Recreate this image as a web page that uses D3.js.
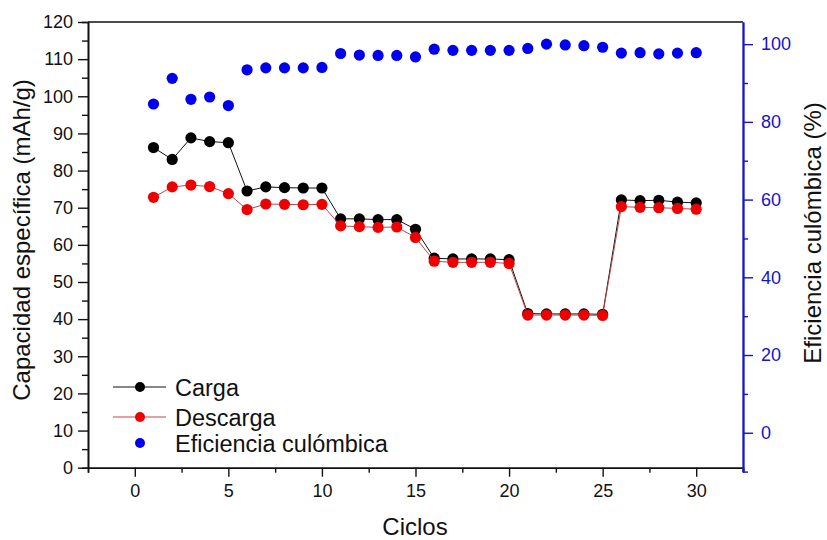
<!DOCTYPE html>
<html>
<head>
<meta charset="utf-8">
<script src="https://cdn.jsdelivr.net/npm/d3@7"></script>
<style>
  body { margin: 0; background: #fff; }
  svg text { font-family: "Liberation Sans", Arial, sans-serif; }
</style>
</head>
<body>
<svg id="svgchart"></svg>
<script>
'use strict'

// values
const ciclos = [1, 2, 3, 4, 5, 6, 7, 8, 9, 10, 11, 12, 13, 14, 15, 16, 17, 18, 19, 20, 21, 22, 23, 24, 25, 26, 27, 28, 29, 30]
const carga = [86.2, 83.0, 88.8, 87.8, 87.5, 74.5, 75.6, 75.4, 75.3, 75.3, 67.0, 67.0, 66.8, 66.8, 64.2,
  56.4, 56.2, 56.2, 56.2, 56.0, 41.5, 41.4, 41.4, 41.4, 41.3, 72.1, 71.9, 72.0, 71.5, 71.3]
const descarga = [72.8, 75.6, 76.1, 75.7, 73.8, 69.5, 71.0, 70.9, 70.8, 70.9, 65.1, 64.9, 64.7, 64.8, 62.0,
  55.6, 55.3, 55.3, 55.3, 55.0, 41.1, 41.1, 41.1, 41.1, 41.0, 70.3, 70.1, 70.0, 69.8, 69.6]
const eficiencia = [84.6, 91.2, 85.8, 86.4, 84.2, 93.4, 93.9, 93.9, 93.9, 94.0, 97.6, 97.2, 97.1, 97.1, 96.7,
  98.7, 98.4, 98.4, 98.4, 98.4, 98.9, 100.0, 99.8, 99.6, 99.2, 97.7, 97.8, 97.5, 97.7, 97.8]
const xTicks = [0, 5, 10, 15, 20, 25, 30]
const yLeftTicks = [0, 10, 20, 30, 40, 50, 60, 70, 80, 90, 100, 110, 120]
const yRightTicks = [0, 20, 40, 60, 80, 100]
const legendLabels = ["Carga", "Descarga", "Eficiencia culómbica"]

const W = 827, H = 540
const plot = {left: 88, right: 743, top: 22, bottom: 467.7}
const blue = "#1414c8"
const tickFont = 18

const svg = d3.select('#svgchart').attr("width", W).attr("height", H)

// scales
const x = d3.scaleLinear().domain([-2.5, 32.5]).range([plot.left, plot.right])
const y = d3.scaleLinear().domain([0, 120]).range([plot.bottom, plot.top])
const y2 = d3.scaleLinear().domain([-10, 105.7]).range([471.6, plot.top])

// top frame line
svg.append("line")
  .attr("x1", plot.left).attr("x2", plot.right)
  .attr("y1", plot.top).attr("y2", plot.top)
  .attr("stroke", "#111").attr("stroke-width", 1.6)

// minor ticks (drawn as separate axes without labels)
svg.append("g")
  .attr("transform", "translate(0," + plot.bottom + ")")
  .call(d3.axisBottom(x).tickValues(d3.range(-2.5, 33, 5)).tickSize(5).tickFormat(""))
svg.append("g")
  .attr("transform", "translate(" + plot.left + ",0)")
  .call(d3.axisLeft(y).tickValues(d3.range(5, 120, 10)).tickSize(6).tickFormat(""))

// x axis
const xAxis = svg.append("g")
  .attr("transform", "translate(0," + plot.bottom + ")")
  .call(d3.axisBottom(x).tickValues(xTicks).tickSize(9).tickSizeOuter(0).tickPadding(8))
xAxis.selectAll("text").attr("font-size", tickFont).attr("fill", "#111")

// left y axis
const yAxis = svg.append("g")
  .attr("transform", "translate(" + plot.left + ",0)")
  .call(d3.axisLeft(y).tickValues(yLeftTicks).tickSize(10).tickSizeOuter(0).tickPadding(5))
yAxis.selectAll("text").attr("font-size", tickFont).attr("fill", "#111")

svg.selectAll(".domain").attr("stroke", "#111").attr("stroke-width", 1.6)
svg.selectAll(".tick line").attr("stroke", "#111").attr("stroke-width", 1.4)

// right y axis (blue)
const yAxis2 = svg.append("g")
  .attr("transform", "translate(" + plot.right + ",0)")
  .call(d3.axisRight(y2).tickValues(d3.range(-10, 101, 20)).tickSize(5).tickSizeOuter(0).tickFormat(""))
  .call(g => g.append("g").call(d3.axisRight(y2).tickValues(yRightTicks).tickSize(10).tickSizeOuter(0).tickPadding(8)))
yAxis2.selectAll(".domain").attr("stroke", blue).attr("stroke-width", 1.8)
yAxis2.selectAll(".tick line").attr("stroke", blue).attr("stroke-width", 1.4)
yAxis2.selectAll("text").attr("font-size", tickFont).attr("fill", blue)

// axis titles
svg.append("text")
  .text("Ciclos")
  .attr("x", 415).attr("y", 535)
  .attr("text-anchor", "middle").attr("font-size", 24).attr("fill", "#111")
svg.append("text")
  .text("Capacidad específica (mAh/g)")
  .attr("transform", "translate(30,240) rotate(-90)")
  .attr("text-anchor", "middle").attr("font-size", 24).attr("fill", "#111")
svg.append("text")
  .text("Eficiencia culómbica (%)")
  .attr("transform", "translate(821,233) rotate(-90)")
  .attr("text-anchor", "middle").attr("font-size", 24).attr("fill", "#111")

// series
const pts = (vals) => ciclos.map((c, i) => ({c: c, v: vals[i]}))
const line = d3.line().x(d => x(d.c)).y(d => y(d.v))

function addSeries(vals, lineColor, dotColor) {
  const g = svg.append("g")
  g.append("path")
    .datum(pts(vals))
    .attr("d", line)
    .attr("fill", "none").attr("stroke", lineColor).attr("stroke-width", 1)
  g.selectAll("circle")
    .data(pts(vals))
    .enter().append("circle")
    .attr("cx", d => x(d.c)).attr("cy", d => y(d.v))
    .attr("r", 5.6).attr("fill", dotColor)
}
addSeries(carga, "#111", "#000")
addSeries(descarga, "#b84848", "#ee0000")

svg.append("g").selectAll("circle")
  .data(pts(eficiencia))
  .enter().append("circle")
  .attr("cx", d => x(d.c)).attr("cy", d => y2(d.v))
  .attr("r", 5.6).attr("fill", "#0000ee")

// legend
const legendY = [387, 417, 443]
const legendLine = ["#111", "#b84848", null]
const legendDot = ["#000", "#ee0000", "#0000ee"]
legendLabels.forEach((label, i) => {
  if (legendLine[i]) {
    svg.append("line")
      .attr("x1", 113).attr("x2", 166)
      .attr("y1", legendY[i]).attr("y2", legendY[i])
      .attr("stroke", legendLine[i]).attr("stroke-width", 1)
  }
  svg.append("circle")
    .attr("cx", 140).attr("cy", legendY[i]).attr("r", 5)
    .attr("fill", legendDot[i])
  svg.append("text")
    .text(label)
    .attr("x", 175).attr("y", legendY[i] + 8.5)
    .attr("font-size", 23.5).attr("fill", "#111")
})
</script>
</body>
</html>
